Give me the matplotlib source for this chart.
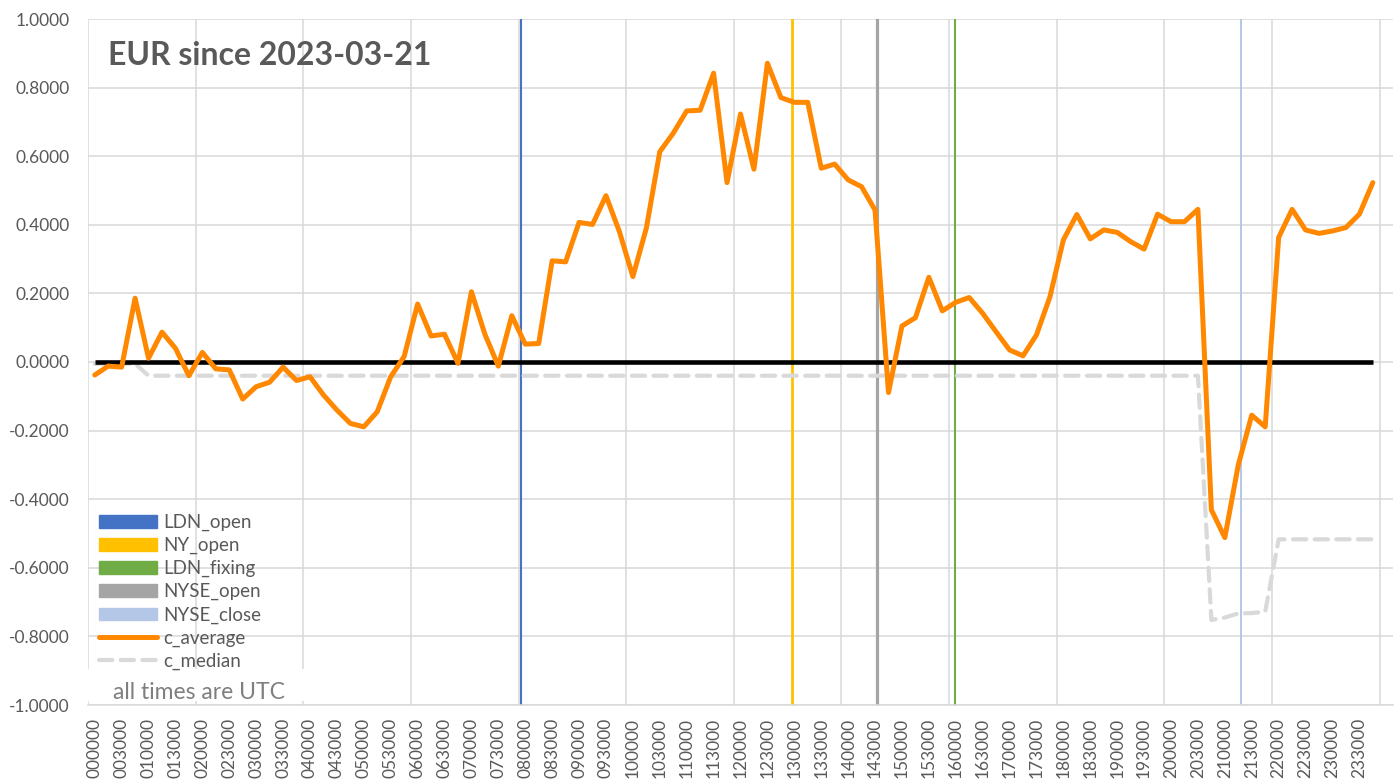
import numpy as np
import matplotlib
matplotlib.use("Agg")
import matplotlib.pyplot as plt
from matplotlib.patches import Patch, Rectangle
from matplotlib.lines import Line2D

plt.rcParams['font.family'] = ['Lato', 'DejaVu Sans']

# 15 minute buckets, UTC
times = [f"{h:02d}{m:02d}00" for h in range(24) for m in (0, 15, 30, 45)]

# average change per bucket
c_average = [-0.038, -0.012, -0.015, 0.186, 0.011, 0.087, 0.040, -0.040,
             0.028, -0.020, -0.023, -0.108, -0.072, -0.059, -0.015, -0.054,
             -0.043, -0.096, -0.140, -0.179, -0.189, -0.145, -0.043, 0.016,
             0.169, 0.076, 0.081, -0.004, 0.205, 0.081, -0.012, 0.135,
             0.052, 0.054, 0.295, 0.292, 0.407, 0.401, 0.485, 0.380,
             0.249, 0.390, 0.613, 0.667, 0.732, 0.734, 0.842, 0.523,
             0.723, 0.562, 0.871, 0.771, 0.757, 0.757, 0.565, 0.577,
             0.531, 0.511, 0.443, -0.089, 0.105, 0.129, 0.247, 0.149,
             0.174, 0.188, 0.142, 0.088, 0.035, 0.018, 0.079, 0.190,
             0.356, 0.430, 0.359, 0.385, 0.378, 0.351, 0.329, 0.431,
             0.409, 0.409, 0.445, -0.431, -0.512, -0.300, -0.155, -0.189,
             0.363, 0.445, 0.385, 0.375, 0.382, 0.392, 0.431, 0.523]

# median change per bucket
c_median = [-0.005, -0.005, -0.005, -0.005] + [-0.040] * 79 + \
           [-0.752, -0.745, -0.733, -0.732, -0.728] + [-0.517] * 8

zero_ref = [0.0] * len(times)

# session markers, in bucket units as they sit on the chart
events = ["LDN_open", "NY_open", "LDN_fixing", "NYSE_open", "NYSE_close"]
event_pos = [31.65, 51.83, 63.97, 58.14, 85.22]
event_col = ["#4472C4", "#FFC000", "#70AD47", "#A5A5A5", "#B4C7E7"]
event_lw = [1.5, 2.0, 1.5, 2.3, 1.4]

yticks = [-1.0, -0.8, -0.6, -0.4, -0.2, 0.0, 0.2, 0.4, 0.6, 0.8, 1.0]

grey_txt = "#595959"
grid_col = "#D9D9D9"

fig = plt.figure(figsize=(14, 7.84), dpi=100)
ax = fig.add_axes([88/1400, 79/784, 1305/1400, 686/784])

x = np.arange(len(times))

for p, c, w in zip(event_pos, event_col, event_lw):
    ax.axvline(p, color=c, lw=w, zorder=2)

ax.plot(x, c_median, color="#D9D9D9", lw=3.0, dashes=(3.2, 2.0),
        dash_capstyle='round', zorder=3)
ax.plot(x, zero_ref, color="black", lw=3.3, solid_capstyle='butt', zorder=4)
ax.plot(x, c_average, color="#FF8800", lw=3.6, solid_capstyle='round',
        solid_joinstyle='round', zorder=5)

ax.set_xlim(-0.5, 96.5)
ax.set_ylim(-1, 1)

ax.set_yticks(yticks)
ax.set_yticklabels([f"{v:.4f}" for v in yticks], color=grey_txt, fontsize=12.5)
ax.set_xticks(x[::2])
ax.set_xticklabels(times[::2], rotation=90, color=grey_txt, fontsize=12.5)
ax.set_xticks(np.arange(-0.5, 97, 8), minor=True)
ax.tick_params(axis='both', which='both', length=0)
ax.tick_params(axis='y', pad=13)
ax.tick_params(axis='x', pad=9)

ax.grid(axis='y', which='major', color=grid_col, lw=1.1, zorder=0)
ax.grid(axis='x', which='minor', color=grid_col, lw=1.1, zorder=0)
ax.set_axisbelow(True)
for s in ['top', 'right', 'left']:
    ax.spines[s].set_visible(False)
ax.spines['bottom'].set_color(grid_col)
ax.spines['bottom'].set_linewidth(1.1)

fig.text(108/1400, 1 - 65/784, "EUR since 2023-03-21", fontsize=23,
         fontweight='bold', color=grey_txt, va='baseline')

handles = [Patch(color=c) for c in event_col]
handles.append(Line2D([], [], color="#FF8800", lw=3.6, solid_capstyle='round'))
handles.append(Line2D([], [], color="#D9D9D9", lw=3.0, dashes=(3.2, 2.0),
                      dash_capstyle='round'))
labels = events + ["c_average", "c_median"]
leg = ax.legend(handles, labels, loc='upper left',
                bbox_to_anchor=(99/1400, 1 - 514/784),
                bbox_transform=fig.transFigure, frameon=False, fontsize=13.5,
                handlelength=3.1, handleheight=0.64, handletextpad=0.32,
                labelspacing=0.31, borderpad=0, borderaxespad=0)
leg.set_zorder(8)
for t in leg.get_texts():
    t.set_color(grey_txt)

# white note box at the bottom left
ax.add_patch(Rectangle((0, 0.006), 0.166, 0.046, transform=ax.transAxes,
                       facecolor='white', edgecolor='none', zorder=6))
ax.text((113 - 88)/1305, (705 - 699)/686, "all times are UTC",
        transform=ax.transAxes, fontsize=16.5, color="#7F7F7F",
        va='baseline', zorder=7)

fig.savefig("out.png", dpi=100)
